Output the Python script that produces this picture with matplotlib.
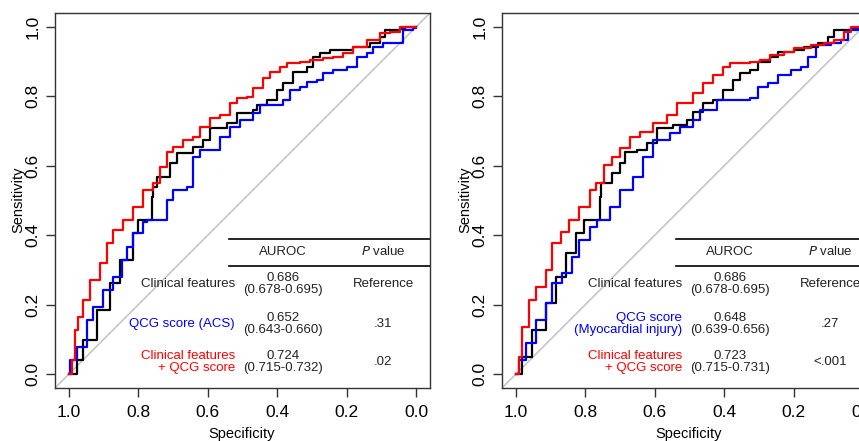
import matplotlib
matplotlib.use("Agg")
import matplotlib.pyplot as plt

plt.rcParams['font.family'] = ['Liberation Sans', 'DejaVu Sans']

# -------------------------------------------------------------------
# ROC curves (specificity, sensitivity)
# -------------------------------------------------------------------
# left panel: QCG score (ACS)
acs_clin_spec = [1.0, 0.978, 0.960, 0.919, 0.882, 0.853, 0.816, 0.801, 0.762, 0.758, 0.746,
                 0.709, 0.689, 0.643, 0.614, 0.594, 0.545, 0.516, 0.470, 0.458, 0.430, 0.401,
                 0.383, 0.354, 0.314, 0.297, 0.277, 0.248, 0.199, 0.182, 0.133, 0.104, 0.089,
                 0.046, 0.032, 0.0]
acs_clin_sens = [0.0, 0.040, 0.098, 0.184, 0.262, 0.329, 0.406, 0.444, 0.511, 0.539, 0.568,
                 0.608, 0.637, 0.654, 0.674, 0.709, 0.723, 0.752, 0.761, 0.775, 0.790, 0.818,
                 0.839, 0.870, 0.885, 0.914, 0.925, 0.934, 0.934, 0.942, 0.954, 0.971, 0.991,
                 0.994, 1.0, 1.0]

acs_qcg_spec = [1.0, 0.997, 0.977, 0.948, 0.931, 0.902, 0.873, 0.847, 0.833, 0.816, 0.787,
                0.775, 0.718, 0.700, 0.660, 0.643, 0.622, 0.585, 0.565, 0.536, 0.507, 0.470,
                0.450, 0.412, 0.383, 0.363, 0.334, 0.314, 0.285, 0.268, 0.239, 0.199, 0.170,
                0.141, 0.124, 0.095, 0.052, 0.037, 0.009, 0.0]
acs_qcg_sens = [0.0, 0.040, 0.078, 0.156, 0.193, 0.242, 0.280, 0.329, 0.366, 0.406, 0.438,
                0.444, 0.501, 0.530, 0.539, 0.625, 0.646, 0.646, 0.683, 0.712, 0.732, 0.752,
                0.775, 0.775, 0.790, 0.818, 0.827, 0.841, 0.847, 0.867, 0.876, 0.885, 0.914,
                0.925, 0.942, 0.954, 0.954, 0.991, 0.997, 1.0]

acs_comb_spec = [1.0, 0.992, 0.983, 0.974, 0.960, 0.939, 0.911, 0.890, 0.873, 0.844, 0.816,
                 0.787, 0.758, 0.738, 0.718, 0.700, 0.671, 0.643, 0.622, 0.594, 0.565, 0.536,
                 0.516, 0.487, 0.470, 0.441, 0.421, 0.392, 0.372, 0.334, 0.305, 0.268, 0.239,
                 0.210, 0.182, 0.141, 0.124, 0.104, 0.075, 0.046, 0.0]
acs_comb_sens = [0.0, 0.040, 0.127, 0.164, 0.213, 0.271, 0.320, 0.378, 0.415, 0.444, 0.481,
                 0.530, 0.550, 0.597, 0.640, 0.654, 0.674, 0.683, 0.712, 0.738, 0.746, 0.781,
                 0.795, 0.798, 0.824, 0.853, 0.870, 0.885, 0.896, 0.899, 0.905, 0.911, 0.914,
                 0.925, 0.942, 0.963, 0.963, 0.983, 0.986, 1.0, 1.0]

# right panel: QCG score (Myocardial injury)
mi_clin_spec = [1.0, 0.983, 0.954, 0.913, 0.884, 0.855, 0.826, 0.803, 0.759, 0.754, 0.722,
                0.701, 0.687, 0.652, 0.623, 0.594, 0.548, 0.507, 0.490, 0.461, 0.432, 0.403,
                0.374, 0.354, 0.325, 0.304, 0.267, 0.246, 0.200, 0.171, 0.130, 0.101, 0.084,
                0.035, 0.014, 0.0]
mi_clin_sens = [0.0, 0.049, 0.127, 0.205, 0.280, 0.349, 0.406, 0.444, 0.510, 0.550, 0.579,
                0.608, 0.640, 0.646, 0.666, 0.709, 0.718, 0.732, 0.755, 0.781, 0.790, 0.818,
                0.847, 0.867, 0.876, 0.899, 0.914, 0.928, 0.934, 0.942, 0.954, 0.971, 0.991,
                0.997, 1.0, 1.0]

mi_qcg_spec = [1.0, 0.991, 0.971, 0.942, 0.913, 0.896, 0.867, 0.838, 0.817, 0.788, 0.765,
               0.730, 0.701, 0.664, 0.635, 0.606, 0.557, 0.528, 0.490, 0.470, 0.420, 0.325,
               0.304, 0.275, 0.246, 0.209, 0.180, 0.159, 0.136, 0.093, 0.064, 0.043, 0.014, 0.0]
mi_qcg_sens = [0.0, 0.040, 0.089, 0.156, 0.205, 0.262, 0.291, 0.337, 0.386, 0.424, 0.444,
               0.481, 0.530, 0.568, 0.625, 0.674, 0.694, 0.712, 0.732, 0.761, 0.790, 0.795,
               0.827, 0.839, 0.862, 0.876, 0.885, 0.914, 0.948, 0.954, 0.963, 0.991, 0.997, 1.0]

mi_comb_spec = [1.0, 0.991, 0.983, 0.962, 0.942, 0.913, 0.896, 0.870, 0.846, 0.817, 0.788,
                0.768, 0.745, 0.722, 0.701, 0.672, 0.643, 0.606, 0.565, 0.536, 0.490, 0.461,
                0.432, 0.403, 0.383, 0.325, 0.296, 0.267, 0.229, 0.200, 0.151, 0.113, 0.084,
                0.055, 0.035, 0.0]
mi_comb_sens = [0.0, 0.049, 0.135, 0.213, 0.251, 0.300, 0.378, 0.409, 0.444, 0.481, 0.530,
                0.550, 0.602, 0.625, 0.651, 0.683, 0.697, 0.723, 0.746, 0.781, 0.810, 0.839,
                0.862, 0.885, 0.896, 0.899, 0.905, 0.919, 0.928, 0.939, 0.948, 0.954, 0.963,
                0.986, 1.0, 1.0]

# table contents
acs_labels = ["Clinical features", "QCG score (ACS)", "Clinical features\n+ QCG score"]
acs_auroc = ["0.686\n(0.678-0.695)", "0.652\n(0.643-0.660)", "0.724\n(0.715-0.732)"]
acs_p = ["Reference", ".31", ".02"]

mi_labels = ["Clinical features", "QCG score\n(Myocardial injury)", "Clinical features\n+ QCG score"]
mi_auroc = ["0.686\n(0.678-0.695)", "0.648\n(0.639-0.656)", "0.723\n(0.715-0.731)"]
mi_p = ["Reference", ".27", "<.001"]

colors = ["black", "#0000FF", "#FF0000"]
ticks = [1.0, 0.8, 0.6, 0.4, 0.2, 0.0]
row_y = [0.259, 0.145, 0.035]

W, H = 859, 441
fig = plt.figure(figsize=(W / 100, H / 100), dpi=100)


def roc_panel(left_px, curves, labels, auroc, pvals):
    ax = fig.add_axes([left_px / W, (H - 388) / H, 375 / W, 375 / H])
    ax.set_xlim(1.04, -0.04)
    ax.set_ylim(-0.04, 1.04)
    ax.axline((1.0, 0.0), (0.0, 1.0), color="#BEBEBE", lw=1.0, zorder=1)
    for (sx, sy), c in zip(curves, colors):
        ax.plot(sx, sy, color=c, lw=1.6, drawstyle="steps-post", zorder=2)

    for sp in ax.spines.values():
        sp.set_color("#333333")
        sp.set_linewidth(1.0)
    ax.set_xticks(ticks)
    ax.set_yticks(ticks)
    ax.set_xticklabels([f"{t:.1f}" for t in ticks])
    ax.set_yticklabels([f"{t:.1f}" for t in ticks], rotation=90, va="center")
    ax.tick_params(direction="out", length=6.5, width=1.0, color="#333333",
                   labelsize=12.5, pad=4)
    ax.tick_params(axis="x", pad=6)

    # small table
    ax.plot([0.539, -0.04], [0.389, 0.389], color="black", lw=1.2, clip_on=False)
    ax.plot([0.539, -0.04], [0.311, 0.311], color="black", lw=1.2, clip_on=False)
    ax.text(0.383, 0.352, "AUROC", ha="center", va="center", fontsize=9.5, color="#222222")
    ax.text(0.095, 0.352, "$\\it{P}$ value", ha="center", va="center", fontsize=9.5,
            color="#222222", clip_on=False)
    for i, y in enumerate(row_y):
        ax.text(0.522, y, labels[i], ha="right", va="center", fontsize=9.5,
                color=colors[i] if i else "#222222", linespacing=0.95)
        ax.text(0.383, y, auroc[i], ha="center", va="center", fontsize=9.5,
                color="#222222", linespacing=0.95)
        ax.text(0.095, y, pvals[i], ha="center", va="center", fontsize=9.5,
                color="#222222", clip_on=False)

    cx = left_px + 187
    fig.text(cx / W, 1 - 434 / H, "Specificity", ha="center", va="center", fontsize=10.5)
    fig.text((left_px - 37) / W, 1 - 200 / H, "Sensitivity", ha="center", va="center",
             fontsize=10.5, rotation=90)
    return ax


roc_panel(55, [(acs_clin_spec, acs_clin_sens), (acs_qcg_spec, acs_qcg_sens),
               (acs_comb_spec, acs_comb_sens)], acs_labels, acs_auroc, acs_p)
roc_panel(502, [(mi_clin_spec, mi_clin_sens), (mi_qcg_spec, mi_qcg_sens),
                (mi_comb_spec, mi_comb_sens)], mi_labels, mi_auroc, mi_p)

fig.savefig("out.png", dpi=100)
